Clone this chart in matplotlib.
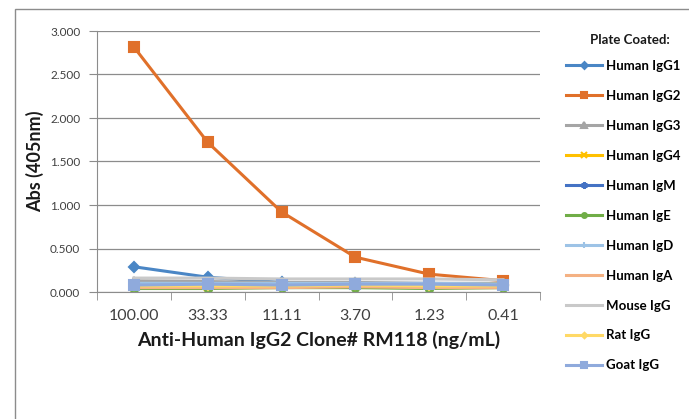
import matplotlib.pyplot as plt
from matplotlib.patches import Rectangle
import numpy as np

plt.rcParams['font.family'] = ['Lato', 'DejaVu Sans']

# x categories (ng/mL)
conc_labels = ['100.00', '33.33', '11.11', '3.70', '1.23', '0.41']

# Abs (405nm) per coated plate
igg1 = [0.290, 0.170, 0.110, 0.100, 0.090, 0.080]
igg2 = [2.816, 1.720, 0.920, 0.400, 0.205, 0.130]
igg3 = [0.130, 0.120, 0.110, 0.110, 0.100, 0.100]
igg4 = [0.060, 0.060, 0.070, 0.080, 0.080, 0.090]
igm = [0.090, 0.090, 0.080, 0.080, 0.080, 0.080]
ige = [0.040, 0.040, 0.050, 0.050, 0.040, 0.050]
igd = [0.100, 0.100, 0.100, 0.100, 0.100, 0.090]
iga = [0.050, 0.050, 0.050, 0.060, 0.050, 0.050]
mouse = [0.160, 0.160, 0.150, 0.150, 0.150, 0.140]
rat = [0.070, 0.070, 0.070, 0.080, 0.070, 0.070]
goat = [0.080, 0.090, 0.080, 0.090, 0.090, 0.080]

series = [
    ('Human IgG1', igg1, '#4a86c5', 'D', 5),
    ('Human IgG2', igg2, '#e0702a', 's', 7),
    ('Human IgG3', igg3, '#a5a5a5', '^', 6),
    ('Human IgG4', igg4, '#ffc000', 'x', 6),
    ('Human IgM', igm, '#4472c4', (6, 2, 0), 7),
    ('Human IgE', ige, '#70ad47', 'o', 5),
    ('Human IgD', igd, '#9dc3e6', '+', 7),
    ('Human IgA', iga, '#f4b183', None, 0),
    ('Mouse IgG', mouse, '#c9c9c9', None, 0),
    ('Rat IgG', rat, '#ffd966', 'D', 4),
    ('Goat IgG', goat, '#8faadc', 's', 7),
]

fig = plt.figure(figsize=(6.89, 4.19), dpi=100)
# outer chart frame (left and top edges visible)
fig.patches.append(Rectangle((15 / 689, -0.1), 1.0, 1 - 9 / 419 + 0.1,
                             transform=fig.transFigure, fill=False,
                             edgecolor='#8c8c8c', lw=1.0))
ax = fig.add_axes([97 / 689, 1 - 292 / 419, (540 - 97) / 689, (292 - 31) / 419])

x = np.arange(len(conc_labels))
for name, vals, col, mk, ms in series:
    ax.plot(x, vals, color=col, lw=2.2, marker=mk, markersize=ms,
            markeredgewidth=1.5, label=name)

ax.set_xlim(-0.5, len(conc_labels) - 0.5)
ax.set_ylim(0, 3)
ax.set_yticks(np.arange(0, 3.01, 0.5))
ax.set_yticklabels(['%.3f' % v for v in np.arange(0, 3.01, 0.5)])
ax.set_xticks(x)
ax.set_xticklabels(conc_labels)
ax.set_xticks(np.arange(-0.5, len(conc_labels), 1), minor=True)
ax.tick_params(axis='x', which='major', length=0, pad=12, labelsize=11.5, colors='#404040')
ax.tick_params(axis='x', which='minor', length=6, color='#8c8c8c')
ax.tick_params(axis='y', length=6, color='#8c8c8c', labelsize=8.5, labelcolor='#404040', pad=6)

ax.grid(axis='y', color='#8c8c8c', lw=0.9)
ax.set_axisbelow(True)
for s in ['top', 'right']:
    ax.spines[s].set_visible(False)
ax.spines['left'].set_color('#8c8c8c')
ax.spines['bottom'].set_color('#8c8c8c')

ax.set_xlabel('Anti-Human IgG2 Clone# RM118 (ng/mL)', fontsize=14, fontweight='bold',
              color='#1a1a1a', labelpad=6)
ax.set_ylabel('Abs (405nm)', fontsize=13, fontweight='bold', color='#1a1a1a', labelpad=4)

leg = ax.legend(loc='upper left', bbox_to_anchor=(562 / 689, 1 - 56 / 419),
                bbox_transform=fig.transFigure, frameon=False,
                prop={'weight': 'bold', 'size': 9.5}, labelspacing=1.36,
                handlelength=2.7, handletextpad=0.35, markerscale=0.7,
                borderpad=0.3, borderaxespad=0)
fig.text(630 / 689, 1 - 40 / 419, 'Plate Coated:', ha='center', va='center',
         fontsize=9.5, fontweight='bold', color='#1a1a1a')

fig.savefig('out.png', dpi=100)
